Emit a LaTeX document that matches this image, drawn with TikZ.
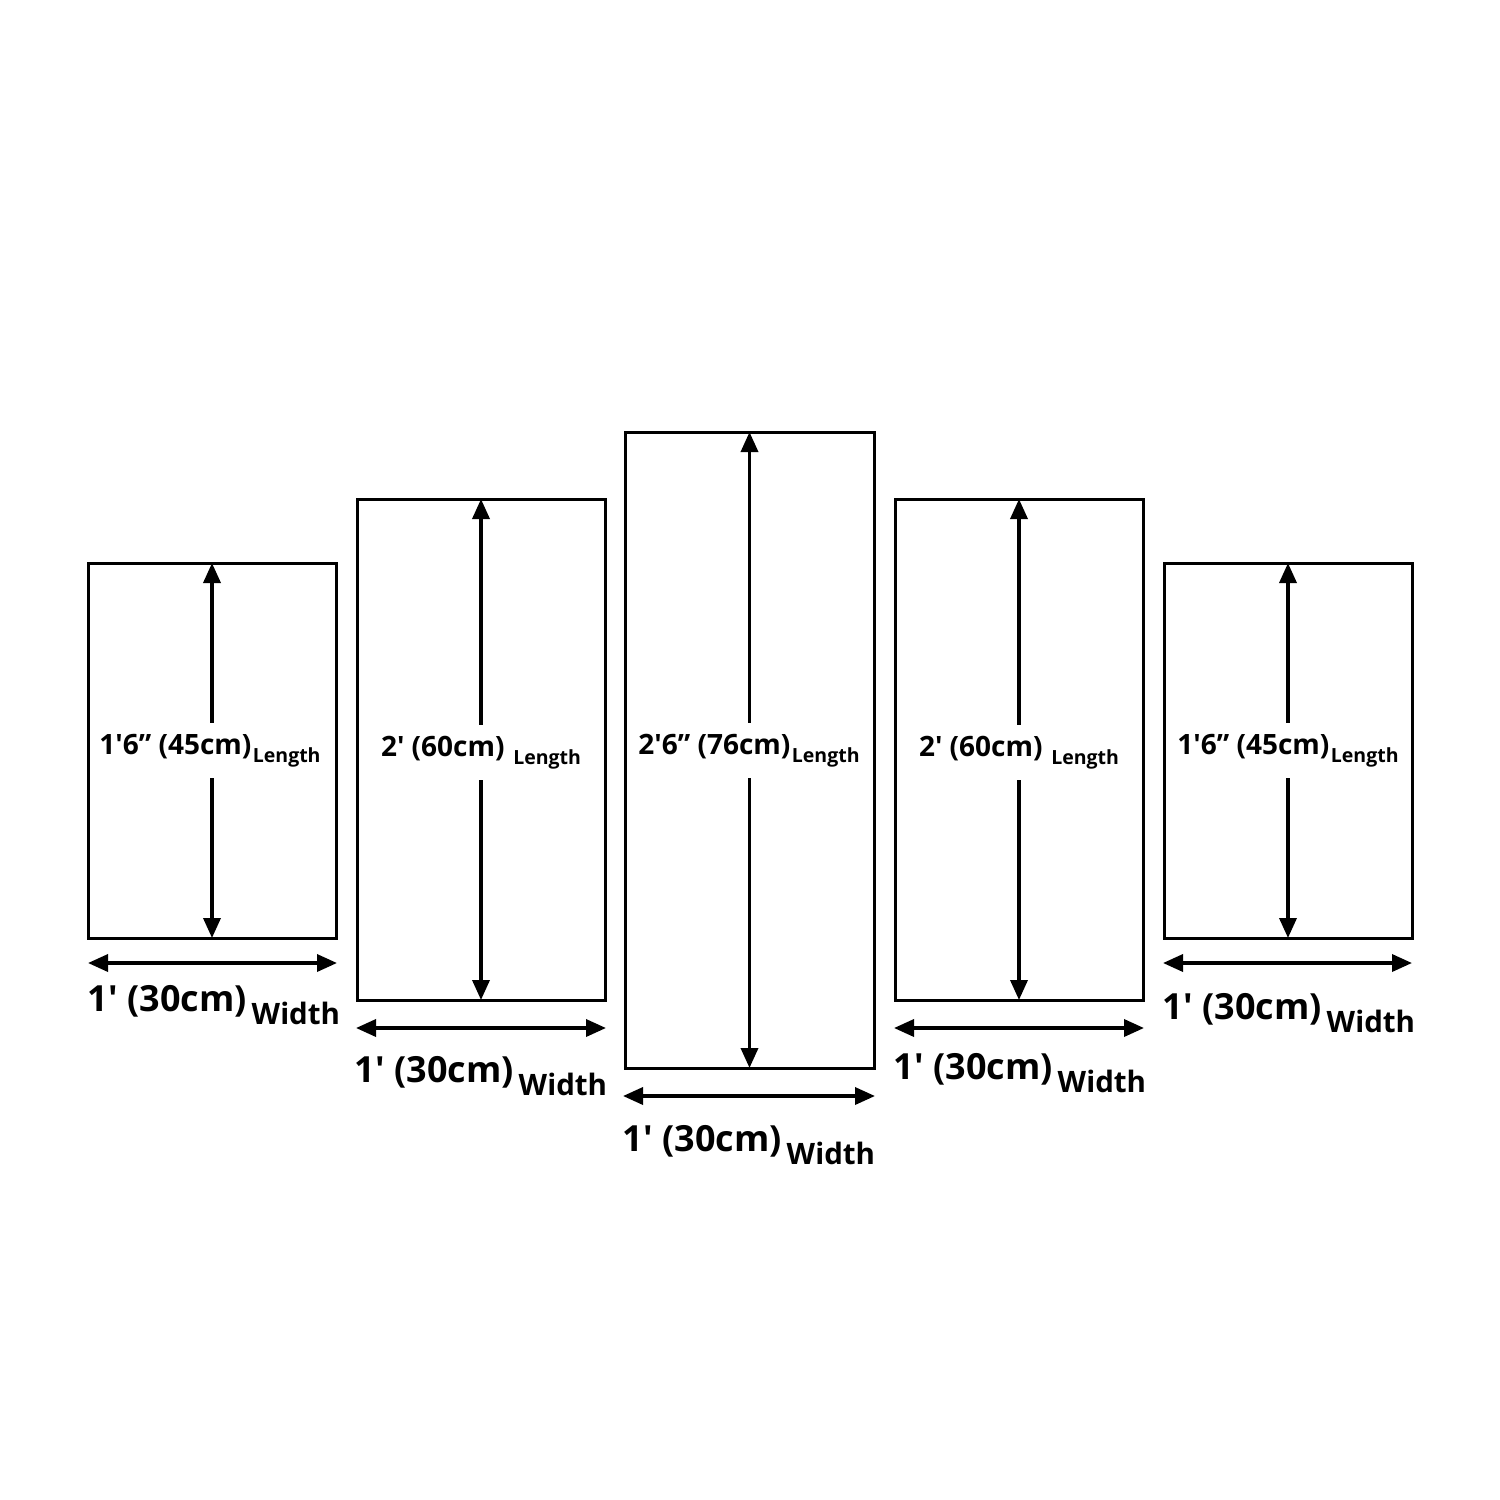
\documentclass[tikz,border=0pt]{standalone}
\usepackage{fontspec}
\setmainfont{Open Sans}
\usetikzlibrary{arrows.meta}
\newcommand{\ftk}{\textquotesingle}
\newcommand{\lenlab}[1]{{\fontsize{28}{31}\selectfont #1}\hspace{1.5pt}\raisebox{-8.5pt}{\fontsize{19.5}{22}\selectfont Length}}
\newcommand{\widlab}{{\fontsize{36}{40}\selectfont 1\ftk{} (30cm)}\hspace{5pt}\raisebox{-13pt}{\fontsize{29.5}{32}\selectfont Width}}
\begin{document}
\begin{tikzpicture}[x=1pt,y=-1pt,
  panel/.style={draw=black, line width=3pt, inner sep=0pt, outer sep=0pt},
  dimarrow/.style={line width=3.5pt, {Triangle[length=20pt,width=17pt]}-{Triangle[length=20pt,width=17pt]}},
  lenlabel/.style={fill=white, inner xsep=2pt, inner ysep=11pt, anchor=base, font=\bfseries},
  widlabel/.style={anchor=base, inner sep=0pt, font=\bfseries}]
\useasboundingbox (0,0) rectangle (1500,1500);
\fill[white] (0,0) rectangle (1500,1500);

% panels
\node[panel, minimum width=248pt, minimum height=375pt] (p1) at (212,750.5) {};
\node[panel, minimum width=248pt, minimum height=501pt] (p2) at (481,749.5) {};
\node[panel, minimum width=249pt, minimum height=636pt] (p3) at (749.5,750) {};
\node[panel, minimum width=248pt, minimum height=501pt] (p4) at (1019,749.5) {};
\node[panel, minimum width=248pt, minimum height=375pt] (p5) at (1288,750.5) {};

% length arrows
\draw[dimarrow] (p1.north) -- (p1.south);
\draw[dimarrow] (p2.north) -- (p2.south);
\draw[dimarrow] (p3.north) -- (p3.south);
\draw[dimarrow] (p4.north) -- (p4.south);
\draw[dimarrow] (p5.north) -- (p5.south);

% length labels
\node[lenlabel] (l1) at (210,754) {\lenlab{1\ftk6” (45cm)}};
\node[lenlabel] (l2) at (481,756) {\lenlab{2\ftk{} (60cm) }};
\node[lenlabel] (l3) at (749,754) {\lenlab{2\ftk6” (76cm)}};
\node[lenlabel] (l4) at (1019,756) {\lenlab{2\ftk{} (60cm) }};
\node[lenlabel] (l5) at (1288,754) {\lenlab{1\ftk6” (45cm)}};

% width arrows
\coordinate (w1a) at (88,963);   \coordinate (w1b) at (337,963);
\coordinate (w2a) at (356,1028); \coordinate (w2b) at (606,1028);
\coordinate (w3a) at (623,1096); \coordinate (w3b) at (875,1096);
\coordinate (w4a) at (894,1028); \coordinate (w4b) at (1144,1028);
\coordinate (w5a) at (1163,963); \coordinate (w5b) at (1412,963);
\draw[dimarrow] (w1a) -- (w1b);
\draw[dimarrow] (w2a) -- (w2b);
\draw[dimarrow] (w3a) -- (w3b);
\draw[dimarrow] (w4a) -- (w4b);
\draw[dimarrow] (w5a) -- (w5b);

% width labels
\node[widlabel] (t1) at (214,1011) {\widlab};
\node[widlabel] (t2) at (481,1082) {\widlab};
\node[widlabel] (t3) at (749,1151) {\widlab};
\node[widlabel] (t4) at (1020,1079) {\widlab};
\node[widlabel] (t5) at (1289,1019) {\widlab};
\end{tikzpicture}
\end{document}
